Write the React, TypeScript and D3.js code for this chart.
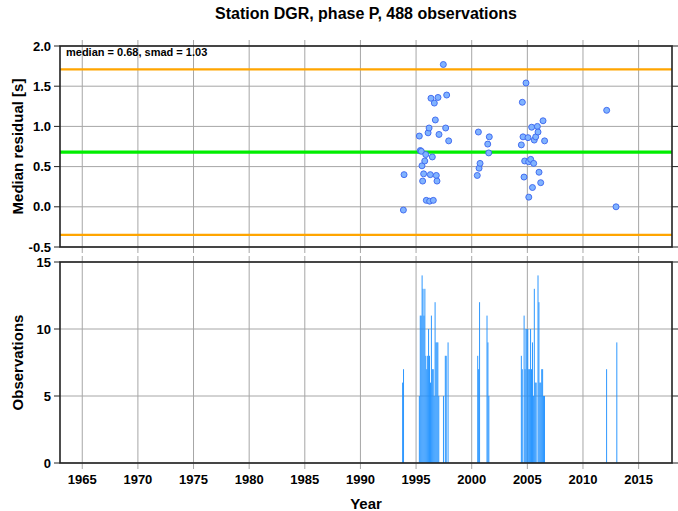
import React from 'react';
import * as d3 from 'd3';

// residual scatter (decimal year, median residual in s)
const residYears = [
  1993.86, 1993.92, 1995.29, 1995.38, 1995.47, 1995.53, 1995.59, 1995.68, 1995.78, 1995.87,
  1995.92, 1996.08, 1996.17, 1996.22, 1996.28, 1996.34, 1996.46, 1996.55, 1996.64, 1996.73,
  1996.82, 1996.88, 1996.97, 1997.06, 1997.45, 1997.66, 1997.75, 1997.93, 2000.5, 2000.6,
  2000.66, 2000.75, 2001.44, 2001.53, 2001.58, 2004.46, 2004.55, 2004.61, 2004.7, 2004.76,
  2004.88, 2005.06, 2005.12, 2005.13, 2005.3, 2005.39, 2005.46, 2005.57, 2005.62, 2005.75,
  2005.9, 2005.96, 2006.05, 2006.2, 2006.41, 2006.55, 2012.13, 2012.97,
];
const residValues = [
  -0.04, 0.4, 0.88, 0.7, 0.69, 0.51, 0.32, 0.41, 0.57, 0.65,
  0.08, 0.92, 0.98, 0.07, 0.4, 1.35, 0.62, 0.08, 1.29, 1.08,
  0.39, 0.32, 1.36, 0.9, 1.77, 0.98, 1.39, 0.82, 0.39, 0.93,
  0.48, 0.54, 0.78, 0.67, 0.87, 0.77, 1.3, 0.87, 0.37, 0.57,
  1.54, 0.86, 0.56, 0.12, 0.59, 0.99, 0.24, 0.54, 0.83, 0.87,
  1.0, 0.93, 0.43, 0.3, 1.07, 0.82, 1.2, 0.0,
];

// observations per month
const obsMonths = [
  '1993-10', '1993-11',
  '1995-04', '1995-05', '1995-06', '1995-07', '1995-08', '1995-09', '1995-10', '1995-11', '1995-12',
  '1996-01', '1996-02', '1996-03', '1996-04', '1996-05', '1996-06', '1996-07', '1996-08', '1996-09',
  '1996-10', '1996-11', '1996-12', '1997-01', '1997-06', '1997-08', '1997-09', '1997-11',
  '2000-07', '2000-08', '2000-09', '2001-05', '2001-06', '2001-07',
  '2004-06', '2004-07', '2004-09', '2004-10', '2004-11', '2004-12', '2005-01', '2005-02', '2005-03',
  '2005-04', '2005-05', '2005-06', '2005-07', '2005-08', '2005-09', '2005-10', '2005-12', '2006-01',
  '2006-02', '2006-03', '2006-04', '2006-05', '2006-06', '2006-07',
  '2012-02', '2013-01',
];
const obsCounts = [
  6, 7,
  5, 11, 11, 14, 13, 11, 13, 8, 7,
  8, 10, 8, 6, 11, 7, 7, 5, 12,
  9, 9, 9, 5, 5, 8, 8, 9,
  8, 7, 12, 11, 9, 5,
  8, 7, 11, 7, 10, 10, 10, 7, 7,
  10, 7, 9, 5, 13, 6, 6, 14, 12,
  6, 6, 7, 7, 5, 5,
  7, 9,
];

const medianVal = 0.68;
const smadVal = 1.03;
const yearTicks = [1965, 1970, 1975, 1980, 1985, 1990, 1995, 2000, 2005, 2010, 2015];
const residTicks = [2.0, 1.5, 1.0, 0.5, 0.0, -0.5];
const obsTicks = [0, 5, 10, 15];

const W = 678;
const H = 511;
const left = 60;
const right = 672;
const top1 = 46;
const bot1 = 247;
const top2 = 262;
const bot2 = 463;
const font = '"Liberation Sans", Arial, Helvetica, sans-serif';
const tick = 6;

export default function App() {
  const x = d3.scaleLinear().domain([1963, 2018]).range([left, right]);
  const y1 = d3.scaleLinear().domain([-0.5, 2.0]).range([bot1, top1]);
  const y2 = d3.scaleLinear().domain([0, 15]).range([bot2, top2]);

  const bars = obsMonths.map((m, i) => {
    const [yy, mm] = m.split('-').map(Number);
    return { t: yy + (mm - 1) / 12, v: obsCounts[i] };
  });
  const monthW = x(1963 + 1 / 12) - x(1963);

  const frame = (t: number, b: number) => (
    <rect x={left} y={t} width={right - left} height={b - t} fill="none" stroke="#222" strokeWidth={1.6} />
  );

  const xTicksFor = (t: number, b: number) =>
    yearTicks.map((yr) => (
      <g key={yr}>
        <line x1={x(yr)} x2={x(yr)} y1={t - tick} y2={b + tick} stroke="#a6a6a6" strokeWidth={1} />
      </g>
    ));

  return (
    <svg width={W} height={H} style={{ display: 'block', position: 'absolute', left: 0, top: 0 }} fontFamily={font}>
      <rect width={W} height={H} fill="#fff" />
      <text x={(left + right) / 2} y={19} textAnchor="middle" fontSize={16} fontWeight="bold">
        Station DGR, phase P, 488 observations
      </text>

      {/* top panel */}
      {xTicksFor(top1, bot1)}
      {residTicks.map((v) => (
        <g key={v}>
          <line x1={left} x2={right} y1={y1(v)} y2={y1(v)} stroke="#a6a6a6" strokeWidth={1} />
          <line x1={left - tick} x2={left} y1={y1(v)} y2={y1(v)} stroke="#222" />
          <line x1={right} x2={right + tick} y1={y1(v)} y2={y1(v)} stroke="#222" />
          <text x={left - 9} y={y1(v) + 4.5} textAnchor="end" fontSize={13} fontWeight="bold">
            {v.toFixed(1)}
          </text>
        </g>
      ))}
      <line x1={left} x2={right} y1={y1(medianVal + smadVal)} y2={y1(medianVal + smadVal)} stroke="#ffa500" strokeWidth={2.2} />
      <line x1={left} x2={right} y1={y1(medianVal - smadVal)} y2={y1(medianVal - smadVal)} stroke="#ffa500" strokeWidth={2.2} />
      <line x1={left} x2={right} y1={y1(medianVal)} y2={y1(medianVal)} stroke="#00ee00" strokeWidth={3.2} />
      {residYears.map((t, i) => (
        <circle key={i} cx={x(t)} cy={y1(residValues[i])} r={3} fill="#80b3ff" stroke="#3a64ee" strokeWidth={0.9} />
      ))}
      {frame(top1, bot1)}
      <text x={left + 6} y={top1 + 10} fontSize={11} fontWeight="bold">
        median = {medianVal.toFixed(2)}, smad = {smadVal.toFixed(2)}
      </text>
      <text transform={`translate(23,${(top1 + bot1) / 2}) rotate(-90)`} textAnchor="middle" fontSize={15} fontWeight="bold">
        Median residual [s]
      </text>

      {/* bottom panel */}
      {xTicksFor(top2, bot2)}
      {obsTicks.map((v) => (
        <g key={v}>
          <line x1={left} x2={right} y1={y2(v)} y2={y2(v)} stroke="#a6a6a6" strokeWidth={1} />
          <line x1={left - tick} x2={left} y1={y2(v)} y2={y2(v)} stroke="#222" />
          <line x1={right} x2={right + tick} y1={y2(v)} y2={y2(v)} stroke="#222" />
          <text x={left - 9} y={y2(v) + 4.5} textAnchor="end" fontSize={13} fontWeight="bold">
            {v}
          </text>
        </g>
      ))}
      {bars.map((d, i) => (
        <rect key={i} x={x(d.t)} y={y2(d.v)} width={monthW} height={y2(0) - y2(d.v)} fill="#1e90ff" />
      ))}
      {frame(top2, bot2)}
      {yearTicks.map((yr) => (
        <text key={yr} x={x(yr)} y={484} textAnchor="middle" fontSize={13} fontWeight="bold">
          {yr}
        </text>
      ))}
      <text transform={`translate(23,${(top2 + bot2) / 2}) rotate(-90)`} textAnchor="middle" fontSize={15} fontWeight="bold">
        Observations
      </text>
      <text x={(left + right) / 2} y={509} textAnchor="middle" fontSize={15} fontWeight="bold">
        Year
      </text>
    </svg>
  );
}
